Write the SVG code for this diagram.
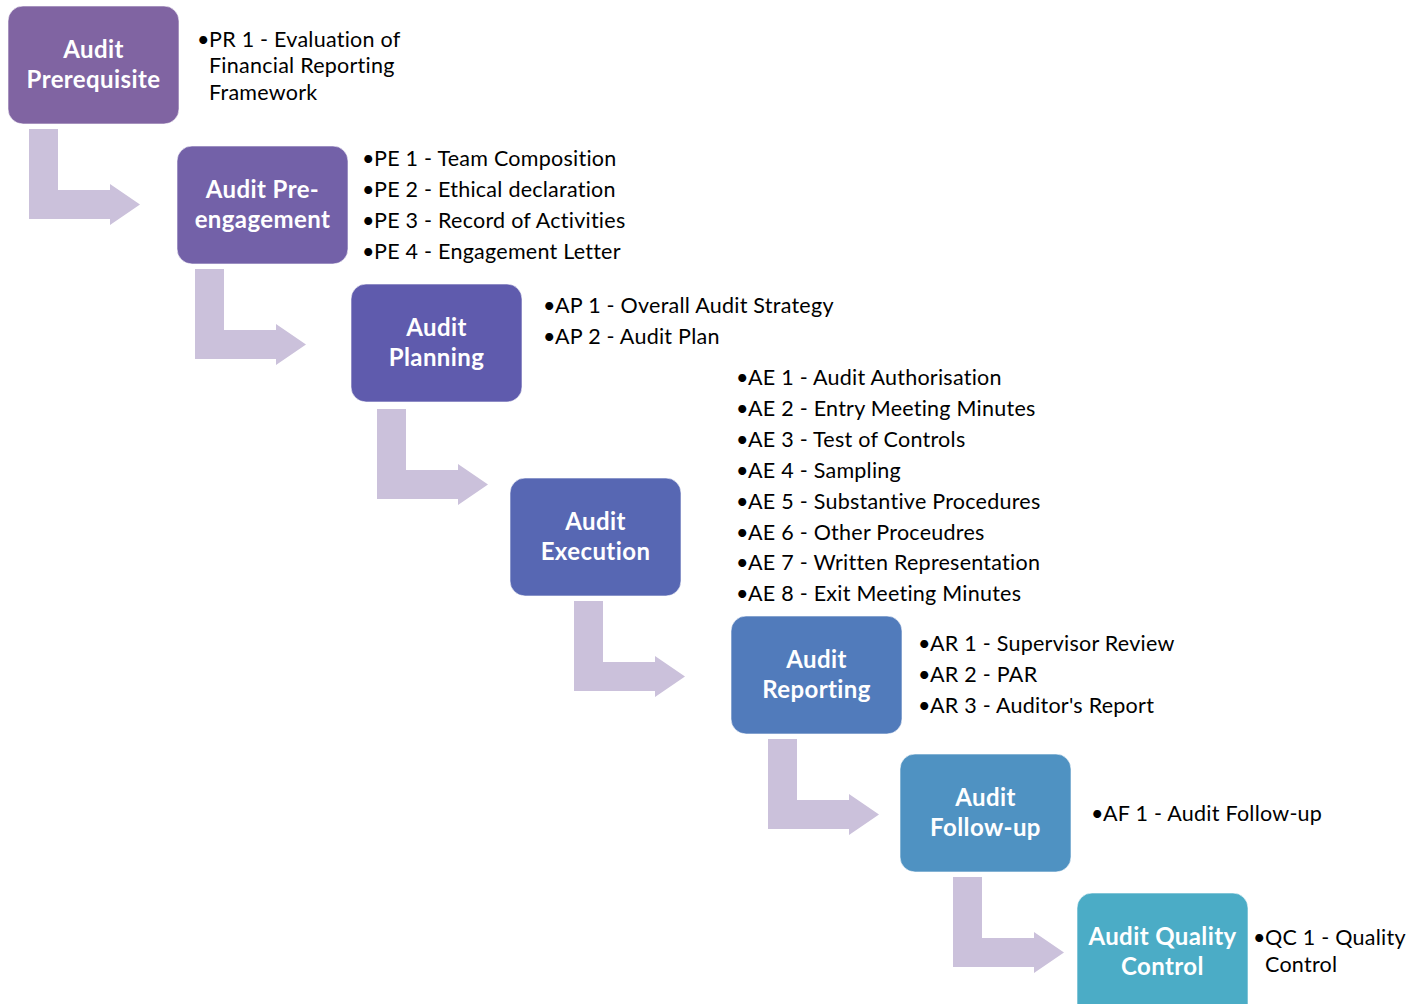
<svg xmlns="http://www.w3.org/2000/svg" width="1417" height="1004" viewBox="0 0 1417 1004">
  <style>
    .box { stroke: #ffffff; stroke-opacity: 0.6; stroke-width: 1; }
    .title { font-family: Lato, "Liberation Sans", sans-serif; font-weight: bold; font-size: 24px; letter-spacing: 0.4px; fill: #ffffff; text-anchor: middle; }
    .item { font-family: Lato, "Liberation Sans", sans-serif; font-size: 21.5px; letter-spacing: 0.25px; fill: #000000; }
    .arrow { fill: #CBC1DB; }
  </style>
  <defs>
    <!-- bent arrow: down then right, origin at top-left of the vertical bar -->
    <path id="bent" d="M0,0 H29 V61 H81 V55 L111,75.5 L81,96 V90 H0 Z"/>
  </defs>
  <rect width="1417" height="1004" fill="#ffffff"/>

  <g id="connectors" class="arrow">
    <use href="#bent" x="29" y="129"/>
    <use href="#bent" x="195" y="269"/>
    <use href="#bent" x="377" y="409"/>
    <use href="#bent" x="574" y="601"/>
    <use href="#bent" x="768" y="739"/>
    <use href="#bent" x="953" y="877"/>
  </g>

  <g id="prerequisite">
    <rect class="box" x="8" y="6" width="171" height="118" rx="15" fill="#8064A2"/>
    <text class="title"><tspan x="93.5" y="58">Audit</tspan><tspan x="93.5" y="88">Prerequisite</tspan></text>
    <text class="item"><tspan x="197" y="47">•</tspan><tspan x="209" y="47">PR 1 - Evaluation of</tspan><tspan x="209" y="73">Financial Reporting</tspan><tspan x="209" y="100">Framework</tspan></text>
  </g>

  <g id="pre-engagement">
    <rect class="box" x="177" y="146" width="171" height="118" rx="15" fill="#7361A8"/>
    <text class="title"><tspan x="262.5" y="198">Audit Pre-</tspan><tspan x="262.5" y="228">engagement</tspan></text>
    <text class="item">
      <tspan x="362" y="166">•</tspan><tspan x="374" y="166">PE 1 - Team Composition</tspan>
      <tspan x="362" y="197">•</tspan><tspan x="374" y="197">PE 2 - Ethical declaration</tspan>
      <tspan x="362" y="228">•</tspan><tspan x="374" y="228">PE 3 - Record of Activities</tspan>
      <tspan x="362" y="259">•</tspan><tspan x="374" y="259">PE 4 - Engagement Letter</tspan>
    </text>
  </g>

  <g id="planning">
    <rect class="box" x="351" y="284" width="171" height="118" rx="15" fill="#5F5BAD"/>
    <text class="title"><tspan x="436.5" y="336">Audit</tspan><tspan x="436.5" y="366">Planning</tspan></text>
    <text class="item">
      <tspan x="543" y="313">•</tspan><tspan x="555" y="313">AP 1 - Overall Audit Strategy</tspan>
      <tspan x="543" y="344">•</tspan><tspan x="555" y="344">AP 2 - Audit Plan</tspan>
    </text>
  </g>

  <g id="execution">
    <rect class="box" x="510" y="478" width="171" height="118" rx="15" fill="#5767B3"/>
    <text class="title"><tspan x="595.5" y="530">Audit</tspan><tspan x="595.5" y="560">Execution</tspan></text>
    <text class="item">
      <tspan x="736" y="385">•</tspan><tspan x="748" y="385">AE 1 - Audit Authorisation</tspan>
      <tspan x="736" y="416">•</tspan><tspan x="748" y="416">AE 2 - Entry Meeting Minutes</tspan>
      <tspan x="736" y="447">•</tspan><tspan x="748" y="447">AE 3 - Test of Controls</tspan>
      <tspan x="736" y="478">•</tspan><tspan x="748" y="478">AE 4 - Sampling</tspan>
      <tspan x="736" y="509">•</tspan><tspan x="748" y="509">AE 5 - Substantive Procedures</tspan>
      <tspan x="736" y="540">•</tspan><tspan x="748" y="540">AE 6 - Other Proceudres</tspan>
      <tspan x="736" y="570">•</tspan><tspan x="748" y="570">AE 7 - Written Representation</tspan>
      <tspan x="736" y="601">•</tspan><tspan x="748" y="601">AE 8 - Exit Meeting Minutes</tspan>
    </text>
  </g>

  <g id="reporting">
    <rect class="box" x="731" y="616" width="171" height="118" rx="15" fill="#517BBB"/>
    <text class="title"><tspan x="816.5" y="668">Audit</tspan><tspan x="816.5" y="698">Reporting</tspan></text>
    <text class="item">
      <tspan x="918" y="651">•</tspan><tspan x="930" y="651">AR 1 - Supervisor Review</tspan>
      <tspan x="918" y="682">•</tspan><tspan x="930" y="682">AR 2 - PAR</tspan>
      <tspan x="918" y="713">•</tspan><tspan x="930" y="713">AR 3 - Auditor's Report</tspan>
    </text>
  </g>

  <g id="follow-up">
    <rect class="box" x="900" y="754" width="171" height="118" rx="15" fill="#4F92C2"/>
    <text class="title"><tspan x="985.5" y="806">Audit</tspan><tspan x="985.5" y="836">Follow-up</tspan></text>
    <text class="item"><tspan x="1091" y="821">•</tspan><tspan x="1103" y="821">AF 1 - Audit Follow-up</tspan></text>
  </g>

  <g id="quality-control">
    <rect class="box" x="1077" y="893" width="171" height="130" rx="15" fill="#4BACC6"/>
    <text class="title"><tspan x="1162.5" y="945">Audit Quality</tspan><tspan x="1162.5" y="975">Control</tspan></text>
    <text class="item"><tspan x="1253" y="945">•</tspan><tspan x="1265" y="945">QC 1 - Quality</tspan><tspan x="1265" y="972">Control</tspan></text>
  </g>
</svg>
